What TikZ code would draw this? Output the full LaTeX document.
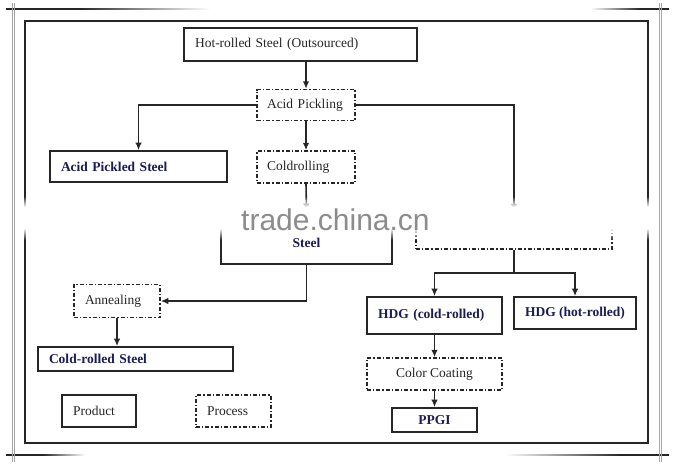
\documentclass[tikz,border=0pt]{standalone}
\usepackage{fontspec}
\setmainfont{Liberation Serif}
\newfontfamily\wmfont{Liberation Sans}
\usetikzlibrary{arrows.meta}
\definecolor{navy}{HTML}{1B1B55}
\definecolor{ink}{HTML}{262626}
\definecolor{wmgray}{HTML}{8C8C8C}
\begin{document}
\begin{tikzpicture}[x=1pt,y=-1pt,
  box/.style={draw=ink, line width=1.7pt, rectangle, inner sep=0pt, text=ink,
    font=\fontsize{13.5}{16}\selectfont},
  prodbox/.style={box, text=navy, font=\fontsize{13.5}{16}\selectfont\bfseries},
  procbox/.style={box, line width=1.5pt, dash pattern=on 4pt off 2pt on 1.3pt off 2pt},
  lefttext/.style={text width=#1, align=left, inner xsep=11pt},
  conn/.style={draw=ink, line width=1.6pt},
  arr/.style={conn, -{Latex[length=7.5pt,width=6.5pt]}},
  edge/.style={line width=1.7pt}
]
\useasboundingbox (0,0) rectangle (674,464);
\fill[white] (0,0) rectangle (674,464);

% decorative outer frame
\fill[black!85] (6,8.2) rectangle (80,9.8);
\shade[left color=black!85, right color=white] (80,8.2) rectangle (210,9.8);
\shade[left color=white, right color=black!85] (590,8.2) rectangle (640,9.8);
\fill[black!85] (640,8.2) rectangle (669,9.8);
\fill[black!85] (6,454.2) rectangle (43,455.8);
\shade[left color=black!85, right color=white] (43,454.2) rectangle (85,455.8);
\shade[left color=white, right color=black!85] (505,454.2) rectangle (620,455.8);
\fill[black!85] (620,454.2) rectangle (669,455.8);
\draw[gray!70, line width=0.7pt] (12.7,3) -- (12.7,462);
\draw[gray!70, line width=0.7pt] (14.7,3) -- (14.7,462);
\draw[gray!70, line width=0.7pt] (659,3) -- (659,462);
\draw[gray!70, line width=0.7pt] (661,3) -- (661,462);
\draw[ink, edge] (25,21) rectangle (648,443);

% nodes
\node[box, lefttext=211pt, minimum width=233pt, minimum height=33pt] (hot) at (300.5,44.5) {Hot-rolled~Steel~(Outsourced)};
\node[procbox, lefttext=78pt, inner xsep=10pt, minimum width=98pt, minimum height=31pt] (pick) at (306,105) {Acid~Pickling};
\node[prodbox, lefttext=155pt, minimum width=177pt, minimum height=31pt] (aps) at (138.5,166.5) {Acid~Pickled~Steel};
\node[procbox, lefttext=78pt, inner xsep=10pt, minimum width=98pt, minimum height=32pt] (cold) at (306,167) {Coldrolling};
\node[prodbox, minimum width=171pt, minimum height=52pt] (steel) at (306.5,238) {};
\node[procbox, minimum width=196pt, minimum height=37pt] (galv) at (514,230.5) {};
\node[procbox, lefttext=64pt, minimum width=86pt, minimum height=33pt] (ann) at (117,301) {Annealing};
\node[prodbox, lefttext=173pt, minimum width=195pt, minimum height=24pt] (crs) at (135.5,359) {Cold-rolled~Steel};
\node[box, lefttext=52pt, minimum width=74pt, minimum height=32pt] (prod) at (99,411) {Product};
\node[procbox, lefttext=53pt, minimum width=75pt, minimum height=32pt] (proc) at (233.5,411) {Process};
\node[prodbox, lefttext=113pt, minimum width=135pt, minimum height=37pt] (hdgc) at (434.5,315.5) {HDG~(cold-rolled)};
\node[prodbox, minimum width=122pt, minimum height=32pt] (hdgh) at (575,313) {HDG (hot-rolled)};
\node[procbox, minimum width=135pt, minimum height=32pt] (cc) at (434.5,374) {Color Coating};
\node[prodbox, minimum width=85pt, minimum height=24pt] (ppgi) at (434.5,420) {PPGI};
\coordinate (br) at (514,273);

% connectors
\draw[arr] (hot.south -| pick.north) -- (pick.north);
\draw[arr] (pick.west) -| (aps.north);
\draw[arr] (pick.east) -| (galv.north);
\draw[arr] (pick.south) -- (cold.north);
\draw[arr] (cold.south) -- (steel.north);
\draw[arr] (steel.south) |- (ann.east);
\draw[arr] (ann.south) -- (ann.south |- crs.north);
\draw[conn] (galv.south) -- (br);
\draw[arr] (br) -| (hdgc.north);
\draw[arr] (br) -| (hdgh.north);
\draw[arr] (hdgc.south) -- (cc.north);
\draw[arr] (cc.south) -- (ppgi.north);

% watermark band
\foreach \k in {0,...,9}{
  \pgfmathsetmacro\op{(\k+1)/11}
  \fill[white, opacity=\op] (16,197+\k) rectangle (657,198.2+\k);
}
\fill[white] (16,207) rectangle (657,229);
\foreach \k in {0,...,10}{
  \pgfmathsetmacro\op{1-(\k+1)/12}
  \fill[white, opacity=\op] (16,228.8+\k) rectangle (657,230+\k);
}

\node[text=navy, inner sep=0pt, font=\fontsize{13.5}{16}\selectfont\bfseries] (steeltxt) at (306.5,243) {Steel};
\node[anchor=base west, inner sep=0pt, text=wmgray, font=\wmfont\fontsize{30}{30}\selectfont] (wm) at (241,230) {trade.china.cn};
\end{tikzpicture}
\end{document}
